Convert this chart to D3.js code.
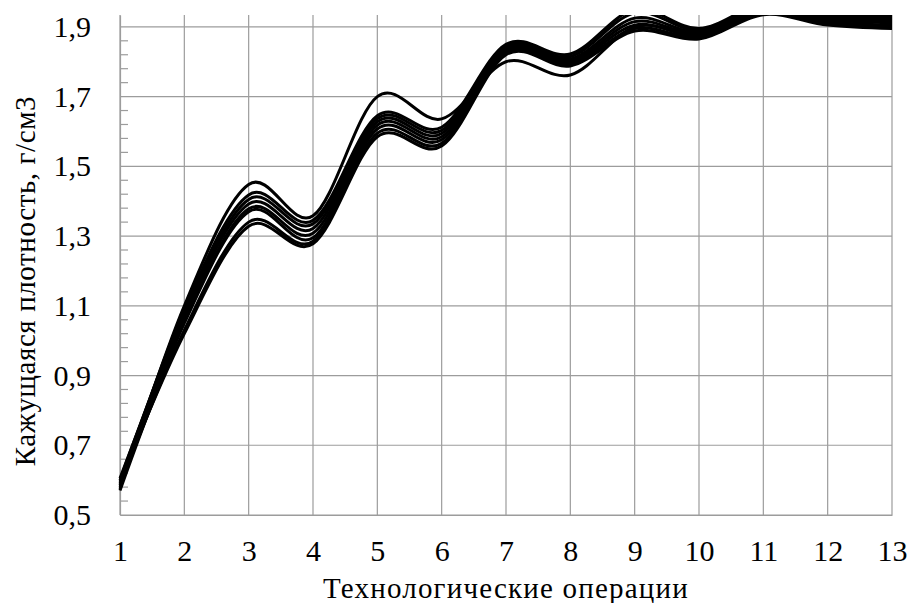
<!DOCTYPE html>
<html>
<head>
<meta charset="utf-8">
<script src="https://cdn.jsdelivr.net/npm/d3@7"></script>
<style>
  html, body { margin: 0; padding: 0; background: #fff; }
  svg { display: block; }
</style>
</head>
<body>
<svg id="chart" width="908" height="603"></svg>
<script>
// Technological operations (x axis)
const operations = [1, 2, 3, 4, 5, 6, 7, 8, 9, 10, 11, 12, 13];

// Apparent density, g/cm3, for each sample series
const seriesA = [0.575, 1.100, 1.448, 1.358, 1.700, 1.636, 1.800, 1.762, 1.900, 1.880, 1.950, 1.925, 1.915];
const seriesB = [0.590, 1.090, 1.418, 1.345, 1.645, 1.612, 1.850, 1.822, 1.950, 1.895, 1.965, 1.935, 1.930];
const seriesC = [0.600, 1.080, 1.405, 1.335, 1.637, 1.603, 1.845, 1.815, 1.940, 1.890, 1.960, 1.930, 1.925];
const seriesD = [0.580, 1.070, 1.392, 1.322, 1.628, 1.594, 1.840, 1.808, 1.925, 1.885, 1.955, 1.925, 1.920];
const seriesE = [0.605, 1.060, 1.378, 1.308, 1.618, 1.585, 1.835, 1.802, 1.915, 1.880, 1.950, 1.920, 1.912];
const seriesF = [0.570, 1.050, 1.370, 1.295, 1.607, 1.576, 1.830, 1.797, 1.905, 1.875, 1.945, 1.915, 1.905];
const seriesG = [0.585, 1.030, 1.340, 1.285, 1.595, 1.566, 1.825, 1.792, 1.895, 1.870, 1.940, 1.910, 1.900];
const seriesH = [0.595, 1.020, 1.328, 1.278, 1.585, 1.558, 1.820, 1.788, 1.888, 1.865, 1.935, 1.905, 1.895];
const allSeries = [seriesA, seriesB, seriesC, seriesD, seriesE, seriesF, seriesG, seriesH];

// Axis ticks and labels
const yTicks = [0.5, 0.7, 0.9, 1.1, 1.3, 1.5, 1.7, 1.9];
const yMinorStep = 0.04;
const yDomain = [0.5, 1.934];
const xTitle = "Технологические операции";
const yTitle = "Кажущаяся плотность, г/см3";

const margin = { left: 120, right: 16, top: 15, bottom: 88 };
const W = 908, H = 603;
const svg = d3.select("#chart");

const x = d3.scaleLinear().domain([1, 13]).range([margin.left, W - margin.right]);
const y = d3.scaleLinear().domain(yDomain).range([H - margin.bottom, margin.top]);

const fmt = v => d3.format(".1f")(v).replace(".", ",");
const gridColor = "#9c9c9c";
const serif = '"Liberation Serif"';

// Grid
const grid = svg.append("g");
grid.selectAll("line.v").data(operations).join("line")
  .attr("x1", d => x(d)).attr("x2", d => x(d))
  .attr("y1", y.range()[1]).attr("y2", y.range()[0])
  .attr("stroke", gridColor).attr("stroke-width", 1.2);
grid.selectAll("line.h").data(yTicks).join("line")
  .attr("x1", x.range()[0]).attr("x2", x.range()[1])
  .attr("y1", d => y(d)).attr("y2", d => y(d))
  .attr("stroke", gridColor).attr("stroke-width", 1.2);

// Minor ticks on the value axis, pointing into the plot
const minor = d3.range(yDomain[0], 1.9, yMinorStep)
  .filter(v => yTicks.every(t => Math.abs(t - v) > 1e-6));
grid.selectAll("line.m").data(minor).join("line")
  .attr("x1", x.range()[0]).attr("x2", x.range()[0] + 8)
  .attr("y1", d => y(d)).attr("y2", d => y(d))
  .attr("stroke", gridColor).attr("stroke-width", 1.2);

// Axes
const xAxis = d3.axisBottom(x).tickValues(operations).tickSize(0).tickPadding(25).tickFormat(d3.format("d"));
const gx = svg.append("g").attr("transform", `translate(0,${y.range()[0]})`).call(xAxis);
gx.select(".domain").attr("stroke", gridColor).attr("stroke-width", 1.2);
gx.selectAll("text").style("font-family", serif).style("font-size", "30px").attr("fill", "#000");

const yAxis = d3.axisLeft(y).tickValues(yTicks).tickSize(0).tickPadding(29).tickFormat(fmt);
const gy = svg.append("g").attr("transform", `translate(${x.range()[0]},0)`).call(yAxis);
gy.select(".domain").attr("stroke", gridColor).attr("stroke-width", 1.2);
gy.selectAll("text").style("font-family", serif).style("font-size", "30px").attr("fill", "#000");

// Series
svg.append("clipPath").attr("id", "plotClip").append("rect")
  .attr("x", x.range()[0] - 4).attr("y", y.range()[1])
  .attr("width", x.range()[1] - x.range()[0] + 4).attr("height", y.range()[0] - y.range()[1]);

const line = d3.line()
  .x((d, i) => x(operations[i]))
  .y(d => y(d))
  .curve(d3.curveCardinal.tension(0));

svg.append("g").attr("clip-path", "url(#plotClip)")
  .selectAll("path").data(allSeries).join("path")
  .attr("d", line)
  .attr("fill", "none").attr("stroke", "#000").attr("stroke-width", 3);

// Axis titles
svg.append("text")
  .attr("x", (x.range()[0] + x.range()[1]) / 2).attr("y", 598)
  .attr("text-anchor", "middle")
  .style("font-family", serif).style("font-size", "29px").style("letter-spacing", "1.2px")
  .text(xTitle);

svg.append("text")
  .attr("transform", `translate(35,${(y.range()[0] + y.range()[1]) / 2 + 16}) rotate(-90)`)
  .attr("text-anchor", "middle")
  .style("font-family", serif).style("font-size", "29px").style("letter-spacing", "0.6px")
  .text(yTitle);
</script>
</body>
</html>
